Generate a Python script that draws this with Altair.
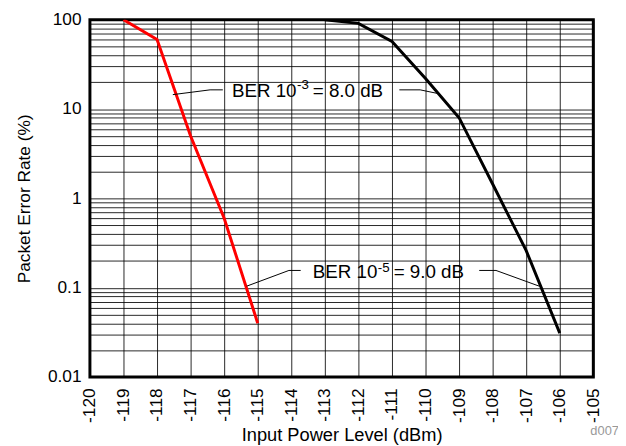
import altair as alt
import pandas as pd

# ---- data ----
x_ticks = list(range(-120, -104))
y_decades = [0.01, 0.1, 1, 10, 100]
y_grid = [round(m * 10.0 ** e, 4) for e in range(-2, 2) for m in range(1, 10)] + [100]

red_x = [-119, -118, -117, -116, -115]
red_y = [100, 60, 5, 0.6, 0.04]

black_x = [-113, -112, -111, -110, -109, -108, -107, -106]
black_y = [100, 91, 57, 22, 8, 1.45, 0.26, 0.031]

# leader lines (data coordinates)
lead_id = ["a", "a", "a", "b", "b", "b", "c", "c", "c", "d", "d", "d"]
lead_ord = [0, 1, 2] * 4
lead_x = [-117.53, -116.42, -116.04, -110.78, -110.16, -109.66,
          -115.33, -114.07, -113.72, -108.40, -107.90, -106.61]
lead_y = [14.5, 16.4, 16.4, 16.4, 16.4, 15.0,
          0.104, 0.156, 0.156, 0.156, 0.156, 0.104]

main_text = ["BER 10", "= 8.0 dB", "BER 10", "= 9.0 dB"]
main_x = [-115.77, -113.36, -113.36, -110.95]
main_y = [13.57, 13.57, 0.129, 0.129]

sup_text = ["-3", "-5"]
sup_x = [-113.83, -111.42]
sup_y = [16.6, 0.150]

FONT = "Liberation Sans"

curves = pd.DataFrame({
    "x": red_x + black_x,
    "y": red_y + black_y,
    "s": ["red"] * len(red_x) + ["black"] * len(black_x),
})
leaders = pd.DataFrame({"id": lead_id, "o": lead_ord, "x": lead_x, "y": lead_y})
mains = pd.DataFrame({"x": main_x, "y": main_y, "t": main_text})
sups = pd.DataFrame({"x": sup_x, "y": sup_y, "t": sup_text})

xscale = alt.Scale(domain=[-120, -105], nice=False, zero=False)
yscale = alt.Scale(type="log", domain=[0.01, 100], nice=False)

xaxis = alt.Axis(values=x_ticks, labelAngle=-90, labelPadding=11, labelOverlap=False,
                 labelBound=False,
                 labelExpr="'-' + toString(abs(datum.value))",
                 labelFontSize=17.5,
                 title="Input Power Level (dBm)", titlePadding=3, titleFontSize=18.5)
yaxis = alt.Axis(values=y_grid, labelPadding=9, labelOverlap=False,
                 labelExpr="indexof(['0.01','0.1','1','10','100'], format(datum.value, '~g')) >= 0 ? format(datum.value, '~g') : ''",
                 labelFontSize=17.5,
                 title="Packet Error Rate (%)", titlePadding=14, titleFontSize=17.5)

lines = alt.Chart(curves).mark_line(strokeWidth=3, clip=True).encode(
    x=alt.X("x:Q", scale=xscale, axis=xaxis),
    y=alt.Y("y:Q", scale=yscale, axis=yaxis),
    color=alt.Color("s:N", scale=alt.Scale(domain=["red", "black"], range=["#ff0000", "#000000"]), legend=None),
    detail="s:N",
)

lead = alt.Chart(leaders).mark_line(strokeWidth=1, color="black").encode(
    x=alt.X("x:Q", scale=xscale, axis=xaxis),
    y=alt.Y("y:Q", scale=yscale, axis=yaxis),
    detail="id:N",
    order="o:Q",
)

txt = alt.Chart(mains).mark_text(align="left", baseline="alphabetic", font=FONT,
                                 fontSize=19, color="black").encode(
    x=alt.X("x:Q", scale=xscale, axis=xaxis), y=alt.Y("y:Q", scale=yscale, axis=yaxis), text="t:N")

sup = alt.Chart(sups).mark_text(align="left", baseline="alphabetic", font=FONT,
                                fontSize=13.5, color="black").encode(
    x=alt.X("x:Q", scale=xscale, axis=xaxis), y=alt.Y("y:Q", scale=yscale, axis=yaxis), text="t:N")

code = alt.Chart(pd.DataFrame({"t": ["d007"]})).mark_text(
    align="left", baseline="alphabetic", font=FONT, fontSize=13, color="#999999"
).encode(x=alt.value(507), y=alt.value(421), text="t:N")

chart = alt.layer(lines, lead, txt, sup, code).properties(
    width=510, height=362,
    autosize=alt.AutoSizeParams(type="none"),
    padding={"left": 83, "top": 9, "right": 25, "bottom": 67},
).configure_view(
    stroke="black", strokeWidth=3
).configure_axis(
    domain=False, ticks=False, grid=True, gridColor="#000000", gridWidth=1, gridOpacity=0.85,
    labelFont=FONT, labelColor="black", labelOverlap=False,
    titleFont=FONT, titleFontWeight="normal", titleColor="black",
).configure_axisX(labelOverlap=False)

chart.save("out.html", embed_options={"renderer": "svg", "actions": False})
